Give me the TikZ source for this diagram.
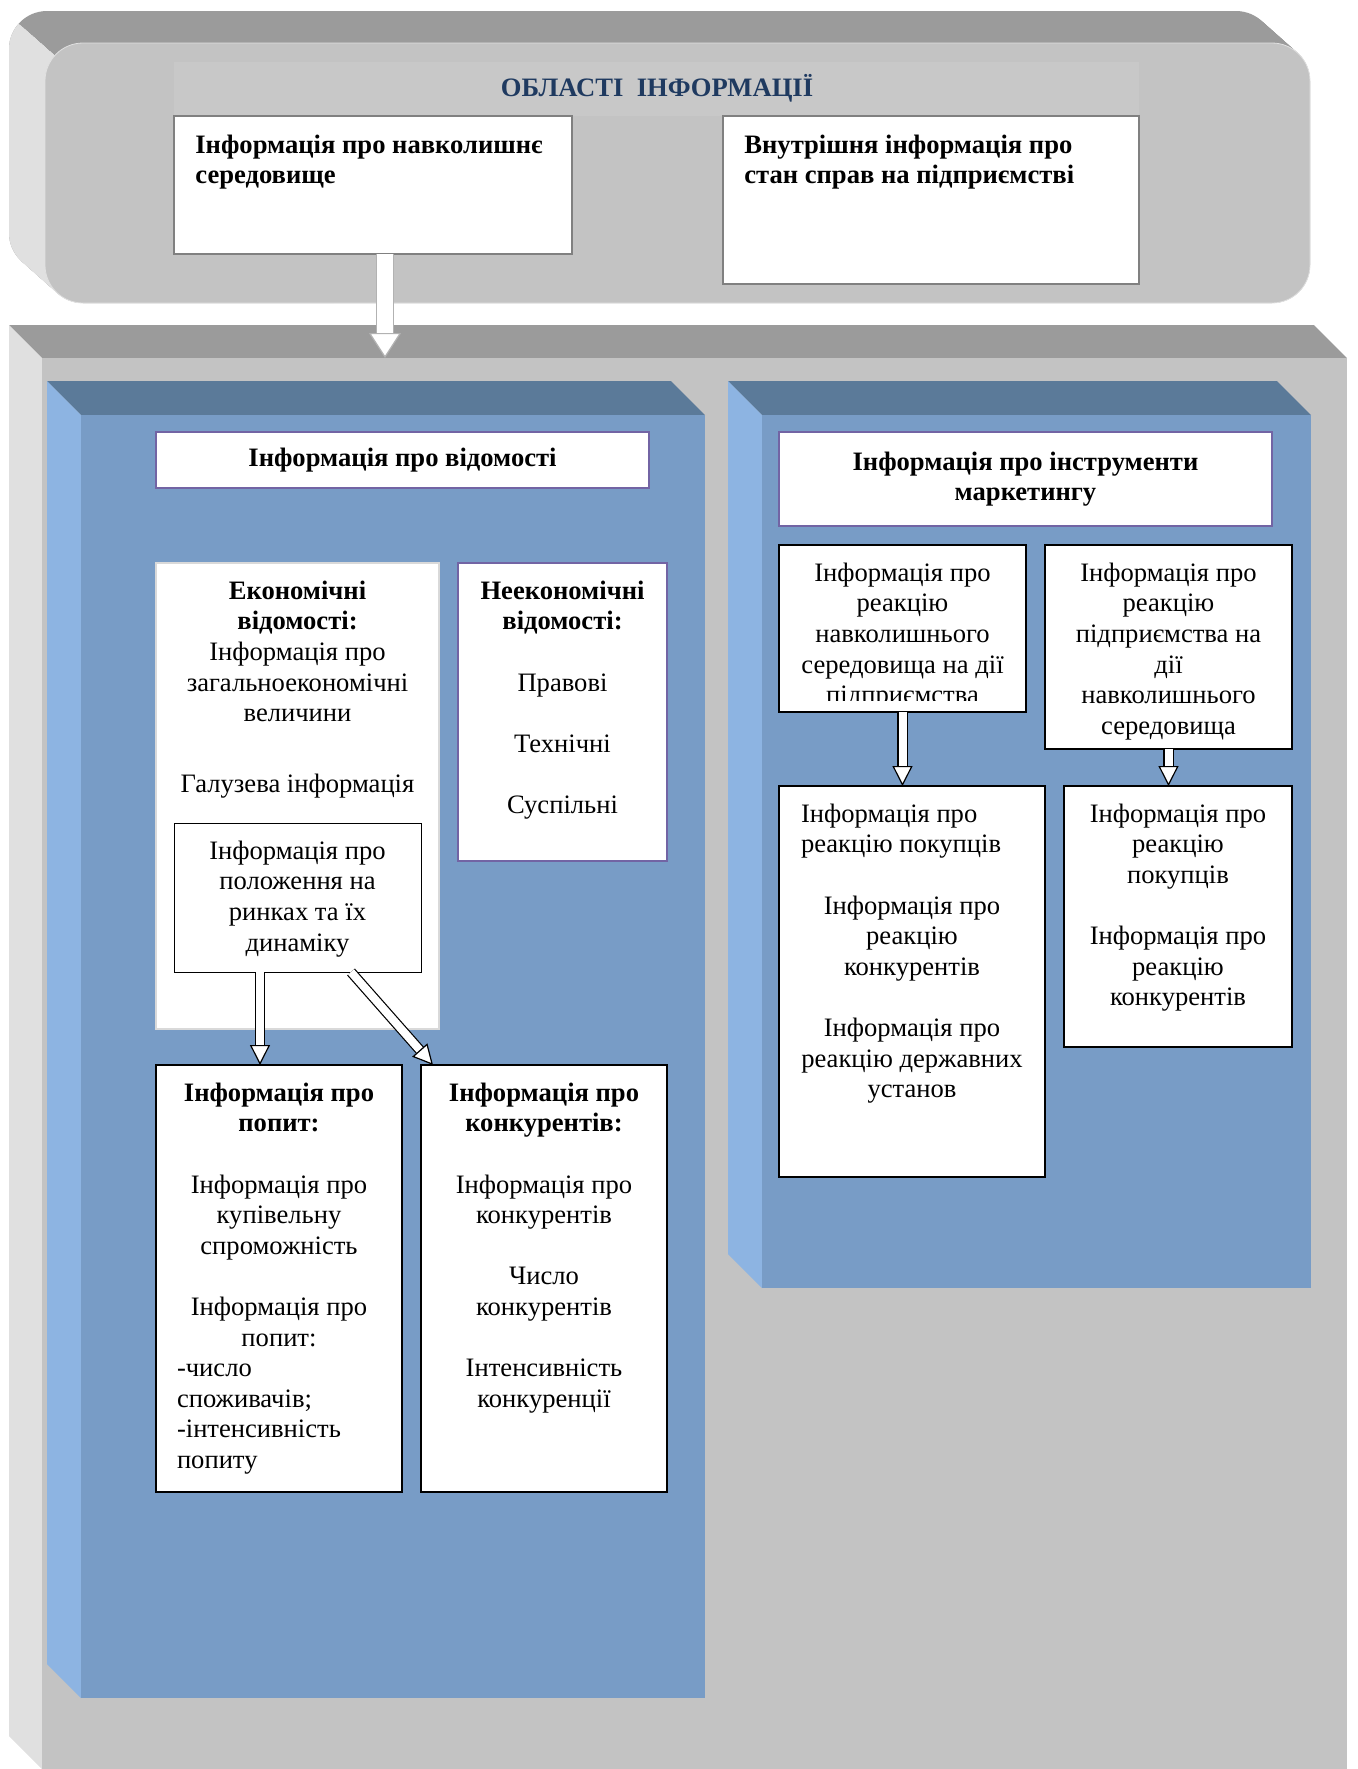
\documentclass[tikz,border=0pt]{standalone}
\usepackage{fontspec}
\setmainfont{Liberation Serif}
\usetikzlibrary{positioning,fit,arrows.meta}

\definecolor{topgray}{HTML}{9B9B9B}
\definecolor{facegray}{HTML}{C3C3C3}
\definecolor{sidegray}{HTML}{E0E0E0}
\definecolor{bandgray}{HTML}{C8C8C8}
\definecolor{bluetop}{HTML}{5B7A99}
\definecolor{blueside}{HTML}{8DB4E2}
\definecolor{bluefront}{HTML}{789CC6}
\definecolor{hdrline}{HTML}{7264A4}
\definecolor{titleblue}{HTML}{1F3A60}

\newcommand{\bodyfont}{\fontsize{13.3pt}{15.3pt}\selectfont}
\newcommand{\lline}[2]{\makebox[#1][l]{#2}}

\begin{document}
\begin{tikzpicture}[x=0.5pt, y=-0.5pt,
    wbox/.style={draw=black, line width=0.7pt, fill=white, inner sep=0pt, outer sep=0pt},
    hbox/.style={wbox, draw=hdrline},
    ebox/.style={wbox, draw=black!15, line width=1.2pt},
    gbox/.style={wbox, draw=black!50},
    txt/.style={inner sep=0pt, align=center, font=\bodyfont},
    blockarrow/.style={draw=black, line width=0.6pt, double=white, double distance=4pt,
      -{Triangle[length=10pt, width=10pt, fill=white]}},
    toparrow/.style={draw=black!30, line width=0.6pt, double=white, double distance=8pt,
      -{Triangle[length=12.5pt, width=16pt, fill=white]}}]

  \useasboundingbox (0,0) rectangle (1357,1769);

  % upper rounded block
  \foreach \k in {0,...,24}
    \fill[topgray, rounded corners=19pt] (9+36*\k/24, 11+32*\k/24) rectangle (1274+36*\k/24, 271+32*\k/24);
  \begin{scope}
    \clip (-313,-271) -- (407,369) -- (-313,369) -- cycle;
    \foreach \k in {0,...,24}
      \fill[sidegray, rounded corners=19pt] (9+36*\k/24, 11+32*\k/24) rectangle (1274+36*\k/24, 271+32*\k/24);
  \end{scope}
  \draw[draw=black!12, fill=facegray, rounded corners=19pt] (45,43) rectangle (1310,303);
  \fill[bandgray] (174,62) rectangle (1139,116);
  \node[font=\bodyfont\bfseries, text=titleblue] (title) at (657,88) {ОБЛАСТІ\ \ ІНФОРМАЦІЇ};

  \node[gbox, fit={(174,116) (572,254)}] (envbox) {};
  \node[txt, align=left, font=\bodyfont\bfseries, below right=9.2pt and 10.5pt of envbox.north west]
    {Інформація про навколишнє\\середовище};
  \node[gbox, fit={(723,116) (1139,284)}] (intbox) {};
  \node[txt, align=left, font=\bodyfont\bfseries, below right=9.2pt and 10.5pt of intbox.north west]
    {Внутрішня інформація про\\стан справ на підприємстві};

  % lower block
  \fill[topgray] (9,325) -- (1314,325) -- (1347,358) -- (42,358) -- cycle;
  \fill[sidegray] (9,325) -- (42,358) -- (42,1769) -- (9,1736) -- cycle;
  \node[fill=facegray, inner sep=0pt, outer sep=0pt, fit={(42,358) (1347,1769)}] (bigfront) {};

  \draw[toparrow] ([xshift=6pt]envbox.south) -- ([xshift=6pt]envbox.south |- bigfront.north);

  % blue panels
  \foreach \xa/\xb/\yb in {47/671/1664, 728/1277/1254}{
    \fill[bluetop] (\xa,381) -- (\xb,381) -- (\xb+34,415) -- (\xa+34,415) -- cycle;
    \fill[blueside] (\xa,381) -- (\xa+34,415) -- (\xa+34,\yb+34) -- (\xa,\yb) -- cycle;
    \fill[bluefront] (\xa+34,415) rectangle (\xb+34,\yb+34);
  }

  % left panel
  \node[hbox, fit={(156,432) (649,488)}] (hdrL) {};
  \node[txt, font=\bodyfont\bfseries] at (hdrL) {Інформація про відомості};

  \node[ebox, fit={(156,563) (439,1029)}] (econ) {};
  \node[txt, below=8.7pt of econ.north]
    {\textbf{Економічні}\\\textbf{відомості:}\\Інформація про\\загальноекономічні\\величини\\[20pt]Галузева інформація};

  \node[wbox, line width=0.5pt, fit={(174,823) (421,972)}] (market) {};
  \node[txt, below=8.7pt of market.north] {Інформація про\\положення на\\ринках та їх\\динаміку};

  \node[hbox, fit={(458,563) (667,861)}] (nonecon) {};
  \node[txt, below=8.7pt of nonecon.north]
    {\textbf{Неекономічні}\\\textbf{відомості:}\\[15.3pt]Правові\\[15.3pt]Технічні\\[15.3pt]Суспільні};

  \node[wbox, fit={(156,1065) (402,1492)}] (demand) {};
  \node[txt, below=8.7pt of demand.north]
    {\textbf{Інформація про}\\\textbf{попит:}\\[15.3pt]Інформація про\\купівельну\\спроможність\\[15.3pt]Інформація про\\попит:\\
     \lline{102pt}{-число}\\\lline{102pt}{споживачів;}\\\lline{102pt}{-інтенсивність}\\\lline{102pt}{попиту}};

  \node[wbox, fit={(421,1065) (667,1492)}] (compet) {};
  \node[txt, below=8.7pt of compet.north]
    {\textbf{Інформація про}\\\textbf{конкурентів:}\\[15.3pt]Інформація про\\конкурентів\\[15.3pt]Число\\конкурентів\\[15.3pt]Інтенсивність\\конкуренції};

  \draw[blockarrow] ([xshift=-18.75pt]market.south) -- ([xshift=-18.75pt]market.south |- demand.north);
  \draw[blockarrow] ([xshift=-35pt]market.south east) -- ([xshift=6pt]compet.north west);

  % right panel
  \node[hbox, fit={(779,432) (1272,526)}] (hdrR) {};
  \node[txt, font=\bodyfont\bfseries] at (hdrR) {Інформація про інструменти\\маркетингу};

  \node[wbox, fit={(779,545) (1026,712)}] (react1) {};
  \begin{scope}
    \clip (react1.north west) rectangle ([yshift=6pt]react1.south east);
    \node[txt, below=8.7pt of react1.north]
      {Інформація про\\реакцію\\навколишнього\\середовища на дії\\підприємства};
  \end{scope}

  \node[wbox, fit={(1045,545) (1292,749)}] (react2) {};
  \node[txt, below=8.7pt of react2.north]
    {Інформація про\\реакцію\\підприємства на\\дії\\навколишнього\\середовища};

  \node[wbox, fit={(779,786) (1045,1177)}] (cons1) {};
  \node[txt, below=8.7pt of cons1.north]
    {\lline{111pt}{Інформація про}\\\lline{111pt}{реакцію покупців}\\[15.3pt]Інформація про\\реакцію\\конкурентів\\[15.3pt]Інформація про\\реакцію державних\\установ};

  \node[wbox, fit={(1064,786) (1292,1047)}] (cons2) {};
  \node[txt, below=8.7pt of cons2.north]
    {Інформація про\\реакцію\\покупців\\[15.3pt]Інформація про\\реакцію\\конкурентів};

  \draw[blockarrow] (react1.south) -- (react1.south |- cons1.north);
  \draw[blockarrow] (react2.south) -- (react2.south |- cons2.north);

\end{tikzpicture}
\end{document}
